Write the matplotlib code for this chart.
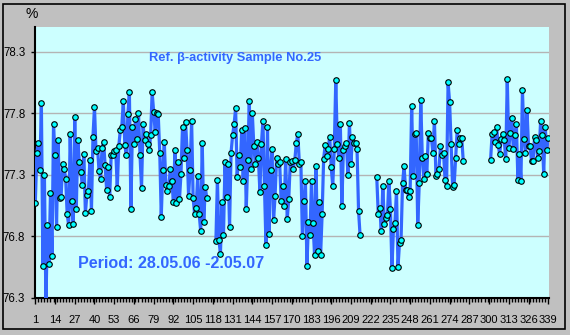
import numpy as np
import matplotlib
matplotlib.use("Agg")
import matplotlib.pyplot as plt
from matplotlib.patches import Rectangle

# -----------------------------------------
# Data: daily reference beta-activity, % (NaN = no measurement)
# -----------------------------------------
seg_1 = [77.07, 77.48, 77.56, 77.34, 77.88, 76.56, 77.30, 76.25, 76.89, 76.58,
         77.15, 76.64, 77.71, 77.46, 76.88, 77.58, 77.11, 77.12, 77.39, 77.35,
         77.27, 76.98, 76.89, 77.63, 77.09, 76.90, 77.77, 77.02, 77.58, 77.40,
         77.32, 77.22, 77.47, 76.99, 77.14, 77.17, 77.42, 77.01, 77.61, 77.85,
         77.49, 77.52, 77.33, 77.27, 77.52, 77.57, 77.38, 77.18, 77.36, 77.12,
         77.46, 77.46, 77.49, 77.50, 77.19, 77.53, 77.66, 77.69, 77.90, 77.54,
         77.46, 77.79, 77.97, 77.02, 77.69, 77.55, 77.75, 77.59, 77.80, 77.46,
         77.19, 77.71, 77.58, 77.63, 77.55, 77.50, 77.62, 77.97, 77.81, 77.65,
         77.80, 77.79, 77.48, 76.96, 77.34, 77.57, 77.22, 77.17,
         77.21, 77.35, 77.25, 77.08, 77.50, 77.07, 77.40, 77.10, 77.31, 77.69,
         77.44, 77.73, 77.50, 77.13, 77.34, 77.74, 77.11, 76.98, 77.03, 77.29,
         76.98, 76.84, 77.56, 76.92, 77.20, 77.11]
gap_1 = 5
seg_2 = [76.76, 77.26, 76.77, 76.66, 77.08, 76.81, 77.40, 77.12, 77.39, 76.88,
         77.48, 77.62, 77.71, 77.84, 77.28, 77.46, 77.36, 77.66, 77.25, 77.68,
         77.02, 77.42, 77.90, 77.35, 77.80, 77.53, 77.39, 77.57, 77.44, 77.16,
         77.55, 77.74, 77.21, 76.73, 77.69, 76.82, 77.34, 77.51, 76.93, 77.13,
         77.44, 77.39, 77.40, 77.09, 77.21, 77.05, 77.43, 76.94, 77.10, 77.40,
         77.41, 77.35, 77.42, 77.56, 77.63,
         77.39, 77.40, 76.80, 77.09, 77.25, 76.56, 76.92, 76.81, 77.25, 76.91,
         76.65, 77.37, 76.68, 77.08, 76.65, 76.98, 77.43, 77.54, 77.45, 77.51,
         77.61, 77.36, 77.21, 77.51, 78.07, 77.55, 77.44, 77.71, 77.05, 77.50,
         77.53, 77.56, 77.30, 77.72, 77.39, 77.61, 77.56, 77.56, 77.51, 77.01,
         76.81]
gap_2 = 10
seg_3 = [77.28, 76.98, 77.03, 76.84, 77.21, 76.90, 76.95, 76.97, 77.25, 77.02,
         76.54, 76.86, 76.91, 77.17, 76.55, 76.75, 76.77, 77.23, 77.37, 77.18,
         77.18, 77.12, 77.17, 77.86, 77.29, 77.63, 77.64, 76.89, 77.23, 77.91,
         77.44, 77.27, 77.45, 77.31, 77.64, 77.60,
         77.60, 77.48, 77.74, 77.29, 77.31, 77.35, 77.53, 77.46, 77.48, 77.26,
         77.21, 78.05, 77.89, 77.55, 77.20, 77.22, 77.44, 77.66, 77.55, 77.60,
         77.60, 77.41]
gap_3 = 17
seg_4 = [77.42, 77.63, 77.65, 77.57, 77.69, 77.54, 77.47, 77.59, 77.63, 77.58,
         77.43, 78.08, 77.52, 77.64, 77.76, 77.51, 77.62, 77.71, 77.26, 77.47,
         77.25, 77.99, 77.59, 77.48, 77.83, 77.53, 77.53, 77.41, 77.41, 77.61,
         77.58, 77.44, 77.49, 77.74, 77.62, 77.31, 77.69, 77.50, 77.60]

y_ticks = [76.3, 76.8, 77.3, 77.8, 78.3]
title_text = "Ref. \u03b2-activity Sample No.25"
period_text = "Period: 28.05.06 -2.05.07"

values = np.array(seg_1 + [np.nan] * gap_1 + seg_2 + [np.nan] * gap_2
                  + seg_3 + [np.nan] * gap_3 + seg_4)
days = np.arange(1, len(values) + 1)
x_ticks = list(range(1, len(values) + 1, 13))

# -----------------------------------------
# Figure
# -----------------------------------------
plt.rcParams["font.family"] = ["Liberation Sans", "DejaVu Sans"]

fig = plt.figure(figsize=(5.7, 3.35), dpi=100, facecolor="#c0c0c0")
fig.patches.append(Rectangle((3 / 570, 6 / 335), 562 / 570, 325 / 335,
                             transform=fig.transFigure, fill=False,
                             edgecolor="black", linewidth=1.2))

ax = fig.add_axes([35 / 570, 1 - 298 / 335, 514 / 570, 271 / 335])
ax.set_facecolor("#ccffff")

ax.plot(days, values, color="#3366ff", linewidth=2.3, zorder=3,
        marker="o", markersize=4, markerfacecolor="#00ffff",
        markeredgecolor="black", markeredgewidth=0.8)

ax.set_xlim(0.8, len(values) + 0.5)
ax.set_ylim(76.3, 78.5)
ax.set_yticks(y_ticks)
ax.set_yticklabels([f"{t:.1f}" for t in y_ticks])
ax.set_xticks(x_ticks)
ax.set_xticks(np.arange(1, len(values) + 1, 2), minor=True)
ax.grid(axis="y", color="#b4b4b4", linewidth=1.0)
ax.set_axisbelow(True)

for side in ("top", "right"):
    ax.spines[side].set_visible(False)
for side in ("left", "bottom"):
    ax.spines[side].set_linewidth(1.5)
    ax.spines[side].set_color("black")

ax.tick_params(axis="y", length=3, width=1, pad=4, labelsize=8.3)
ax.tick_params(axis="x", which="major", length=4, width=1, pad=8, labelsize=8)
ax.tick_params(axis="x", which="minor", length=3, width=1)

fig.text(32 / 570, 1 - 14 / 335, "%", fontsize=10, ha="center", va="center")
ax.text((149 - 35) / 514, 1 - (58 - 27) / 271, title_text,
        transform=ax.transAxes, color="#3366ff", fontsize=9.3,
        fontweight="bold", ha="left", va="center")
ax.text((78 - 35) / 514, 1 - (263 - 27) / 271, period_text,
        transform=ax.transAxes, color="#3366ff", fontsize=11.6,
        fontweight="bold", ha="left", va="center")

fig.savefig("out.png", dpi=100, facecolor=fig.get_facecolor())
